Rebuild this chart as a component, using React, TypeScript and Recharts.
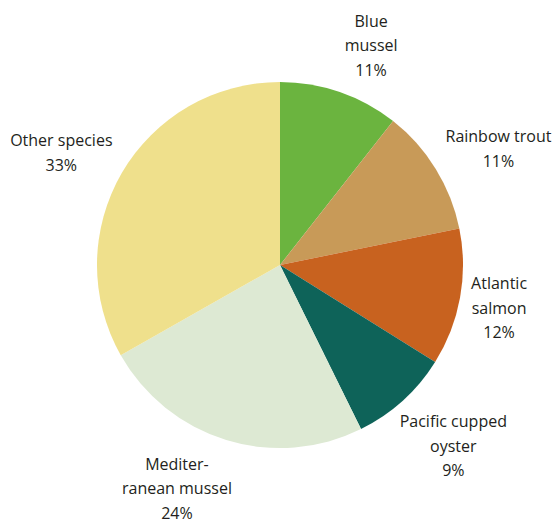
import React from "react";
import { PieChart, Pie, Cell } from "recharts";

const species = [
  "Blue mussel",
  "Rainbow trout",
  "Atlantic salmon",
  "Pacific cupped oyster",
  "Mediterranean mussel",
  "Other species",
];
const shares = [10.6, 11.2, 12.1, 8.8, 24.1, 33.2];
const percentLabels = ["11%", "11%", "12%", "9%", "24%", "33%"];
const labelLines: string[][] = [
  ["Blue", "mussel"],
  ["Rainbow trout"],
  ["Atlantic", "salmon"],
  ["Pacific cupped", "oyster"],
  ["Mediter-", "ranean mussel"],
  ["Other species"],
];
const colors = ["#6bb43f", "#c89a58", "#c8621f", "#0e6359", "#dde9d3", "#efe08c"];

const data = species.map((name, i) => ({ name, value: shares[i] }));

// layout nudges for label blocks (px)
const NUDGE: [number, number][] = [
  [11, 12],
  [10, 12],
  [-22, -1],
  [9, -1],
  [-31, -11],
  [-7, 11],
];

const RAD = Math.PI / 180;
const LINE_H = 24.5;

const renderLabel = (props: any) => {
  const { cx, cy, midAngle, outerRadius, index } = props;
  const r = outerRadius + 62;
  const x = cx + r * Math.cos(-midAngle * RAD) + NUDGE[index][0];
  const y = cy + r * Math.sin(-midAngle * RAD) + NUDGE[index][1];
  const lines = [...labelLines[index], percentLabels[index]];
  const startY = y - ((lines.length - 1) * LINE_H) / 2;
  return (
    <text
      key={`lbl-${index}`}
      x={x}
      y={startY}
      textAnchor="middle"
      dominantBaseline="central"
      fill="#231f20"
      fontSize={16}
      fontFamily="'Open Sans', sans-serif"
    >
      {lines.map((l, k) => (
        <tspan key={k} x={x} y={startY + k * LINE_H} dominantBaseline="central">
          {l}
        </tspan>
      ))}
    </text>
  );
};

export default function App() {
  return (
    <div style={{ position: "absolute", left: 0, top: 0, width: 556, height: 520 }}>
      <PieChart width={556} height={520} margin={{ top: 0, right: 0, bottom: 0, left: 0 }}>
        <Pie
          data={data}
          dataKey="value"
          nameKey="name"
          cx={280}
          cy={265}
          outerRadius={183}
          startAngle={90}
          endAngle={-270}
          stroke="none"
          label={renderLabel}
          labelLine={false}
          isAnimationActive={false}
        >
          {data.map((d, i) => (
            <Cell key={d.name} fill={colors[i]} />
          ))}
        </Pie>
      </PieChart>
    </div>
  );
}
